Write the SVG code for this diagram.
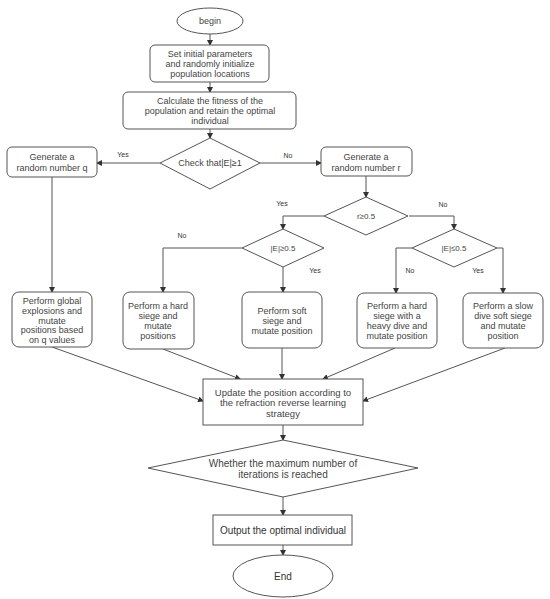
<svg xmlns="http://www.w3.org/2000/svg" width="550" height="599" viewBox="0 0 550 599">
<defs>
<marker id="arr" markerWidth="6" markerHeight="6" refX="5" refY="3" orient="auto" markerUnits="userSpaceOnUse">
<path d="M0,0 L6,3 L0,6 z" fill="#333"/>
</marker>
<style>
.s{fill:#fff;stroke:#555;stroke-width:1}
.t{font-family:"Liberation Sans",Arial,sans-serif;font-size:9px;fill:#444;text-anchor:middle;dominant-baseline:central}
.a{font-family:"Liberation Sans",Arial,sans-serif;font-size:10px;fill:#333;text-anchor:middle;dominant-baseline:central}
.l{font-family:"Liberation Sans",Arial,sans-serif;font-size:7px;fill:#333;text-anchor:middle;dominant-baseline:central}
.c{fill:none;stroke:#555;stroke-width:1;marker-end:url(#arr)}
</style>
</defs>
<rect width="550" height="599" fill="#fff"/>
<g id="connectors">
<path class="c" d="M210,34 V45"/>
<path class="c" d="M210,82 V92"/>
<path class="c" d="M210,129 V138"/>
<path class="c" d="M160,163 H97"/>
<path class="c" d="M260,163 H321"/>
<path class="c" d="M52,177 V292"/>
<path class="c" d="M366,176 V197"/>
<path class="c" d="M324,216 H283 V229"/>
<path class="c" d="M409,216 H454 V229"/>
<path class="c" d="M242,248 H163 V292"/>
<path class="c" d="M283,267 V292"/>
<path class="c" d="M412,248 H396 V293"/>
<path class="c" d="M497,248 H503 V293"/>
<path class="c" d="M52,347 L203,401"/>
<path class="c" d="M163,349 L240,379"/>
<path class="c" d="M282,348 V379"/>
<path class="c" d="M395,348 L323,379"/>
<path class="c" d="M505,348 L363,401"/>
<path class="c" d="M283,425 V440"/>
<path class="c" d="M283,497 V515"/>
<path class="c" d="M283,545 V555"/>
<text class="l" x="123" y="154">Yes</text>
<text class="l" x="288" y="155">No</text>
<text class="l" x="282" y="203">Yes</text>
<text class="l" x="443" y="204">No</text>
<text class="l" x="182" y="235">No</text>
<text class="l" x="315" y="270">Yes</text>
<text class="l" x="410" y="270">No</text>
<text class="l" x="478" y="270">Yes</text>
</g>
<g id="begin">
<ellipse class="s" cx="210" cy="21" rx="33" ry="13"/>
<text class="t" x="210" y="21">begin</text>
</g>
<g id="init">
<rect class="s" x="150" y="45" width="119" height="37" rx="5"/>
<text class="t" x="210" y="53.5">Set initial parameters</text>
<text class="t" x="210" y="63.5">and randomly initialize</text>
<text class="t" x="210" y="73.5">population locations</text>
</g>
<g id="fitness">
<rect class="s" x="123" y="92" width="173" height="37" rx="5"/>
<text class="t" x="210" y="100.5">Calculate the fitness of the</text>
<text class="t" x="210" y="110.5">population and retain the optimal</text>
<text class="t" x="210" y="120.5">individual</text>
</g>
<g id="check">
<path class="s" d="M210,138 L260,163 L210,189 L160,163 Z" stroke-linejoin="round"/>
<text class="t" x="210" y="163">Check that|E|≥1</text>
</g>
<g id="genq">
<rect class="s" x="7" y="147" width="90" height="30" rx="5"/>
<text class="t" x="52" y="157">Generate a</text>
<text class="t" x="52" y="168">random number q</text>
</g>
<g id="genr">
<rect class="s" x="321" y="147" width="91" height="29" rx="5"/>
<text class="t" x="366" y="157">Generate a</text>
<text class="t" x="366" y="167.5">random number r</text>
</g>
<g id="rdec">
<path class="s" d="M366,197 L408,216 L366,235 L324,216 Z" stroke-linejoin="round"/>
<text class="t" x="366" y="216" style="font-size:8px">r≥0.5</text>
</g>
<g id="e1">
<path class="s" d="M283,229 L324,248 L283,267 L242,248 Z" stroke-linejoin="round"/>
<text class="t" x="283" y="248" style="font-size:8px">|E|≥0.5</text>
</g>
<g id="e2">
<path class="s" d="M454,229 L497,248 L454,267 L412,248 Z" stroke-linejoin="round"/>
<text class="t" x="454" y="248" style="font-size:8px">|E|≤0.5</text>
</g>
<g id="global">
<rect class="s" x="12" y="292" width="80" height="55" rx="7"/>
<text class="t" x="52" y="300.5">Perform global</text>
<text class="t" x="52" y="310.5">explosions and</text>
<text class="t" x="52" y="320.5">mutate</text>
<text class="t" x="52" y="330">positions based</text>
<text class="t" x="52" y="339.5">on q values</text>
</g>
<g id="hard">
<rect class="s" x="123" y="292" width="71" height="57" rx="7"/>
<text class="t" x="158" y="306">Perform a hard</text>
<text class="t" x="158" y="316">siege and</text>
<text class="t" x="158" y="326">mutate</text>
<text class="t" x="158" y="336">positions</text>
</g>
<g id="soft">
<rect class="s" x="242" y="292" width="80" height="56" rx="7"/>
<text class="t" x="282" y="311">Perform soft</text>
<text class="t" x="282" y="321">siege and</text>
<text class="t" x="282" y="331">mutate position</text>
</g>
<g id="heavy">
<rect class="s" x="357" y="293" width="80" height="55" rx="7"/>
<text class="t" x="397" y="306">Perform a hard</text>
<text class="t" x="397" y="316">siege with a</text>
<text class="t" x="397" y="326">heavy dive and</text>
<text class="t" x="397" y="336">mutate position</text>
</g>
<g id="slow">
<rect class="s" x="463" y="293" width="80" height="55" rx="7"/>
<text class="t" x="503" y="306">Perform a slow</text>
<text class="t" x="503" y="316">dive soft siege</text>
<text class="t" x="503" y="326">and mutate</text>
<text class="t" x="503" y="336">position</text>
</g>
<g id="update">
<rect class="s" x="203" y="379" width="160" height="46"/>
<text class="t" x="283" y="392" style="font-size:9.5px">Update the position according to</text>
<text class="t" x="283" y="402.5" style="font-size:9.5px">the refraction reverse learning</text>
<text class="t" x="283" y="413" style="font-size:9.5px">strategy</text>
</g>
<g id="whether">
<path class="s" d="M283,440 L418,468 L283,497 L148,468 Z"/>
<text class="t" x="283" y="463" style="font-size:10px">Whether the maximum number of</text>
<text class="t" x="283" y="474" style="font-size:10px">iterations is reached</text>
</g>
<g id="output">
<rect class="s" x="213" y="515" width="139" height="30"/>
<text class="a" x="283" y="530">Output the optimal individual</text>
</g>
<g id="end">
<ellipse class="s" cx="283" cy="576" rx="50" ry="21"/>
<text class="a" x="283" y="576">End</text>
</g>
</svg>
